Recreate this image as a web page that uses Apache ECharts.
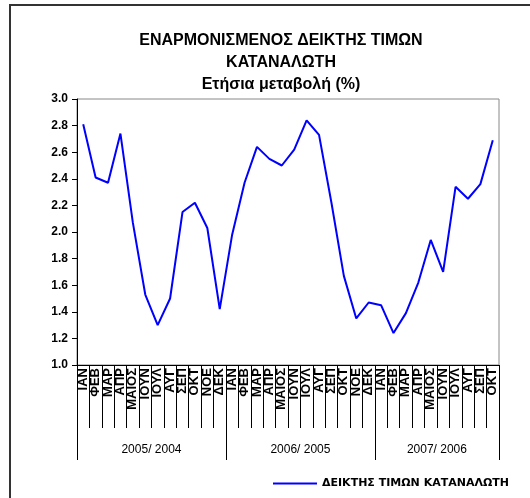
<!DOCTYPE html>
<html>
<head>
<meta charset="utf-8">
<script src="https://cdn.jsdelivr.net/npm/echarts@6/dist/echarts.min.js"></script>
<style>
  html, body { margin: 0; padding: 0; background: #fff; }
  #chart { width: 530px; height: 498px; }
</style>
</head>
<body>
<div id="chart"></div>
<script>
    // months shown on the axis (last year stops at October)
    var monthNames = ['ΙΑΝ', 'ΦΕΒ', 'ΜΑΡ', 'ΑΠΡ', 'ΜΑΙΟΣ', 'ΙΟΥΝ', 'ΙΟΥΛ', 'ΑΥΓ', 'ΣΕΠ', 'ΟΚΤ', 'ΝΟΕ', 'ΔΕΚ'];
    var months = monthNames.concat(monthNames, monthNames.slice(0, 10));

    var yearLabels = ['2005/ 2004', '2006/ 2005', '2007/ 2006'];
    var yearStarts = [0, 12, 24, 34];

    var hicp = [
        2.81, 2.41, 2.37, 2.74, 2.07, 1.53, 1.30, 1.50, 2.15, 2.22, 2.03, 1.42,
        1.98, 2.37, 2.64, 2.55, 2.50, 2.62, 2.84, 2.73, 2.22, 1.67, 1.35, 1.47,
        1.45, 1.24, 1.39, 1.62, 1.94, 1.70, 2.34, 2.25, 2.36, 2.69
    ];

    var yTicks = [1.0, 1.2, 1.4, 1.6, 1.8, 2.0, 2.2, 2.4, 2.6, 2.8, 3.0];

    var yearMids = [];
    var monthTicks = [];
    for (var i = 0; i < yearLabels.length; i++) {
        yearMids.push((yearStarts[i] + yearStarts[i + 1]) / 2);
    }
    for (var m = 0; m <= months.length; m++) {
        monthTicks.push(m);
    }

    var myChart = echarts.init(document.getElementById('chart'));

    var option = {
        backgroundColor: '#fff',
        animation: false,
        graphic: [{
            type: 'rect',
            shape: { x: 10, y: 5, width: 560, height: 540 },
            style: { fill: 'none', stroke: '#333', lineWidth: 2 }
        }],
        title: {
            text: 'ΕΝΑΡΜΟΝΙΣΜΕΝΟΣ ΔΕΙΚΤΗΣ ΤΙΜΩΝ\nΚΑΤΑΝΑΛΩΤΗ\nΕτήσια μεταβολή (%)',
            left: 276,
            textAlign: 'center',
            top: 25,
            textStyle: {
                fontFamily: 'Liberation Sans',
                fontSize: 16,
                fontWeight: 'bold',
                color: '#000',
                lineHeight: 22
            }
        },
        legend: {
            left: 268,
            top: 473,
            itemWidth: 44,
            itemHeight: 2,
            itemGap: 7,
            icon: 'rect',
            textStyle: {
                fontFamily: 'DejaVu Sans',
                fontSize: 11,
                fontWeight: 'bold',
                color: '#000'
            },
            data: ['ΔΕΙΚΤΗΣ ΤΙΜΩΝ ΚΑΤΑΝΑΛΩΤΗ']
        },
        grid: {
            left: 77,
            right: 31,
            top: 99,
            bottom: 133,
            show: true,
            borderColor: '#888',
            borderWidth: 1
        },
        xAxis: [{
            type: 'category',
            data: months,
            boundaryGap: true,
            axisLine: { lineStyle: { color: '#000', width: 1 } },
            axisTick: { show: false },
            axisLabel: {
                interval: 0,
                rotate: 90,
                margin: 3,
                fontFamily: 'Liberation Sans',
                fontSize: 13,
                fontWeight: 'bold',
                color: '#000'
            }
        }, {
            // month separators
            type: 'value',
            position: 'bottom',
            min: 0,
            max: months.length,
            axisLine: { show: false },
            splitLine: { show: false },
            axisTick: {
                show: true,
                length: 63,
                customValues: monthTicks,
                lineStyle: { color: '#000' }
            },
            axisLabel: { show: false }
        }, {
            // year groups
            type: 'value',
            position: 'bottom',
            min: 0,
            max: months.length,
            axisLine: { show: false },
            splitLine: { show: false },
            axisTick: {
                show: true,
                length: 95,
                customValues: yearStarts,
                lineStyle: { color: '#000' }
            },
            axisLabel: {
                customValues: yearMids,
                margin: 79,
                fontFamily: 'Liberation Sans',
                fontSize: 12,
                color: '#000',
                formatter: function (v) {
                    var k = yearMids.indexOf(v);
                    return k >= 0 ? yearLabels[k] : '';
                }
            }
        }],
        yAxis: {
            type: 'value',
            min: yTicks[0],
            max: yTicks[yTicks.length - 1],
            interval: 0.2,
            axisLine: { show: true, lineStyle: { color: '#000' } },
            axisTick: { show: true, length: 5, lineStyle: { color: '#000' } },
            splitLine: { show: false },
            axisLabel: {
                margin: 9,
                fontFamily: 'Liberation Sans',
                fontSize: 12,
                fontWeight: 'bold',
                color: '#000',
                formatter: function (v) { return v.toFixed(1); }
            }
        },
        series: [{
            name: 'ΔΕΙΚΤΗΣ ΤΙΜΩΝ ΚΑΤΑΝΑΛΩΤΗ',
            type: 'line',
            xAxisIndex: 0,
            data: hicp,
            symbol: 'none',
            color: '#0000ff',
            lineStyle: { color: '#0000ff', width: 2 }
        }]
    };

    myChart.setOption(option);
</script>
</body>
</html>
